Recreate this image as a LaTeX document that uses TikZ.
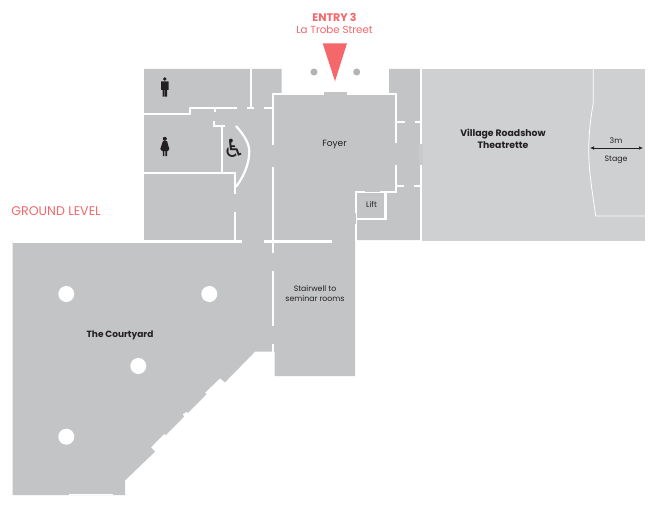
\documentclass[tikz,border=0pt]{standalone}
\usetikzlibrary{arrows.meta}
\usepackage{fontspec}
\setmainfont{Poppins}
\newfontfamily\symfont{DejaVu Sans}
\definecolor{roomgrey}{HTML}{C3C4C6}
\definecolor{theatregrey}{HTML}{CFD0D2}
\definecolor{doorgrey}{HTML}{C9CACC}
\definecolor{dotgrey}{HTML}{B2B3B5}
\definecolor{entrypink}{HTML}{F4676B}
\definecolor{labelink}{HTML}{231F20}
\tikzset{
  wall/.style={draw=white,line width=2.2pt},
  thinwall/.style={draw=white,line width=0.8pt},
  roomlabel/.style={font=\fontsize{7.8}{10}\selectfont,text=labelink,align=center,inner sep=0pt},
  boldlabel/.style={font=\fontsize{9}{12}\selectfont\bfseries,text=labelink,align=center,inner sep=0pt},
  pinklabel/.style={text=entrypink,align=center,inner sep=0pt},
  pillar/.style={circle,fill=white,minimum size=16pt,inner sep=0pt},
  figure/.style={fill=labelink,draw=none}
}
\begin{document}
\begin{tikzpicture}[x=1pt,y=-1pt]
\useasboundingbox (0,0) rectangle (660,508);
\fill[white] (0,0) rectangle (660,508);
% floor
\fill[roomgrey] (144,69)--(281.5,69)--(281.5,95)--(389,95)--(389,69)--(421,69)--(421,240)--(357,240)--(355,240)--(355,376)--(274.5,376)--(274.5,351.7)--(255,351.7)--(225,382.3)--(220,378.3)--(205,392.7)--(206.7,394)--(188,413)--(187,411.7)--(182.7,414)--(184,416.7)--(166,435)--(164,434)--(151,447.3)--(155,451.7)--(125,480.5)--(125,495)--(12.7,495)--(12.7,241)--(144,241)--cycle;
\fill[theatregrey] (421,69) rectangle (645,241);
\fill[doorgrey] (419,143.5) rectangle (423,165);
\fill[roomgrey] (324,92.5) rectangle (347,96);
\draw[thinwall] (69,494.6)--(112.7,494.6);
% upper-left walls
\draw[wall] (250.7,69)--(250.7,108);
\draw[wall] (144,113.7)--(190,113.7)--(190,107.7)--(236.7,107.7);
\draw[wall] (247,107.7)--(253.7,107.7);
\draw[wall] (264,107.7)--(273,107.7);
\draw[wall,line width=1.5pt] (215,107.7)--(215,111.5);
\draw[wall] (214,120.7)--(214,126)--(225,126);
\draw[wall] (221.7,126)--(221.7,173);
\draw[wall] (144,173)--(235.7,173);
\draw[wall] (235,173)--(235,194);
\draw[wall] (235,212)--(235,241);
\draw[wall] (236,126) .. controls (245,136) and (249.3,144) .. (249.3,151.7) .. controls (249.3,164) and (243,178) .. (236,186.7);
% foyer walls
\draw[wall] (324,94)--(273,94)--(273,145);
\draw[wall] (347,94)--(396,94)--(396,143);
\draw[wall] (273,166.7)--(273,253);
\draw[wall] (273,270.7)--(273,326);
\draw[wall] (273,344)--(273,351.7);
\draw[wall] (396,165)--(396,192)--(380,192);
\draw[wall] (396,122.3)--(405,122.3);
\draw[wall] (415,122.3)--(420,122.3);
\draw[wall] (396,186)--(404,186);
\draw[wall] (414,186)--(420,186);
\draw[wall] (420.7,69)--(420.7,143.5);
\draw[wall] (420.7,165)--(420.7,241);
% lift
\draw[wall] (365,192)--(356,192)--(356,213);
\draw[thinwall] (365,192)--(380,192);
\draw[thinwall] (356,213)--(356,224);
\draw[wall] (356,224)--(356,241);
\draw[wall] (385.5,192)--(385.5,219.3)--(356,219.3);
% horizontal at y=241
\draw[wall] (12.7,241.5)--(241.7,241.5);
\draw[wall] (264,241.5)--(331.7,241.5);
% stage
\draw[thinwall] (593.3,69)--(593.3,103) .. controls (590.5,118) and (588.7,135) .. (588.7,150) .. controls (588.7,170) and (592,190) .. (595.7,216)--(645,216);
\draw[{Latex[length=4pt,width=3.5pt]}-{Latex[length=4pt,width=3.5pt]},draw=labelink,line width=0.6pt] (590,148)--(643,148);
% pillars
\node[pillar] (p1) at (66.3,294) {};
\node[pillar] (p2) at (209.3,294) {};
\node[pillar] (p3) at (138.3,366) {};
\node[pillar] (p4) at (66.3,436.7) {};
\node[circle,fill=dotgrey,minimum size=7pt,inner sep=0pt] (d1) at (314,72) {};
\node[circle,fill=dotgrey,minimum size=7pt,inner sep=0pt] (d2) at (356.7,72) {};
% entry marker
\fill[entrypink] (322.7,43.3)--(347,43.3)--(335,81.3)--cycle;
\node[pinklabel,font=\fontsize{11}{13}\selectfont\bfseries] (entry) at (334.5,17) {ENTRY 3};
\node[pinklabel,font=\fontsize{10.3}{12}\selectfont] (street) at (334.5,30) {La Trobe Street};
\node[pinklabel,font=\fontsize{12.6}{14}\selectfont] (level) at (56,211.5) {GROUND LEVEL};
% labels
\node[roomlabel,font=\fontsize{9}{10}\selectfont] (foyer) at (334.5,145) {Foyer};
\node[roomlabel] (lift) at (371.5,204.5) {Lift};
\node[roomlabel] (stair) at (315,294) {Stairwell to\\seminar rooms};
\node[boldlabel] (court) at (120,335) {The Courtyard};
\node[boldlabel,font=\fontsize{9.3}{12}\selectfont\bfseries] (theatre) at (503,139) {Village Roadshow\\Theatrette};
\node[roomlabel] (three) at (616,141) {3m};
\node[roomlabel] (stage) at (616,160) {Stage};
% wheelchair
\node[inner sep=0pt,text=labelink] (wc) at (234,148) {\symfont\fontsize{25}{25}\selectfont ♿};
% man
\fill[figure] (164.8,79) circle (1.9);
\fill[figure] (161,81.5) rectangle (168.5,90) (162.5,90) rectangle (164.5,96.7) (165,90) rectangle (167,96.7);
% woman
\fill[figure] (164.8,138.8) circle (2);
\fill[figure] (163,141)--(167,141)--(169.3,149)--(168,151)--(162,151)--(160.3,149)--cycle;
\fill[figure] (162.8,151) rectangle (164.4,156) (165.3,151) rectangle (167,156);
\end{tikzpicture}
\end{document}
